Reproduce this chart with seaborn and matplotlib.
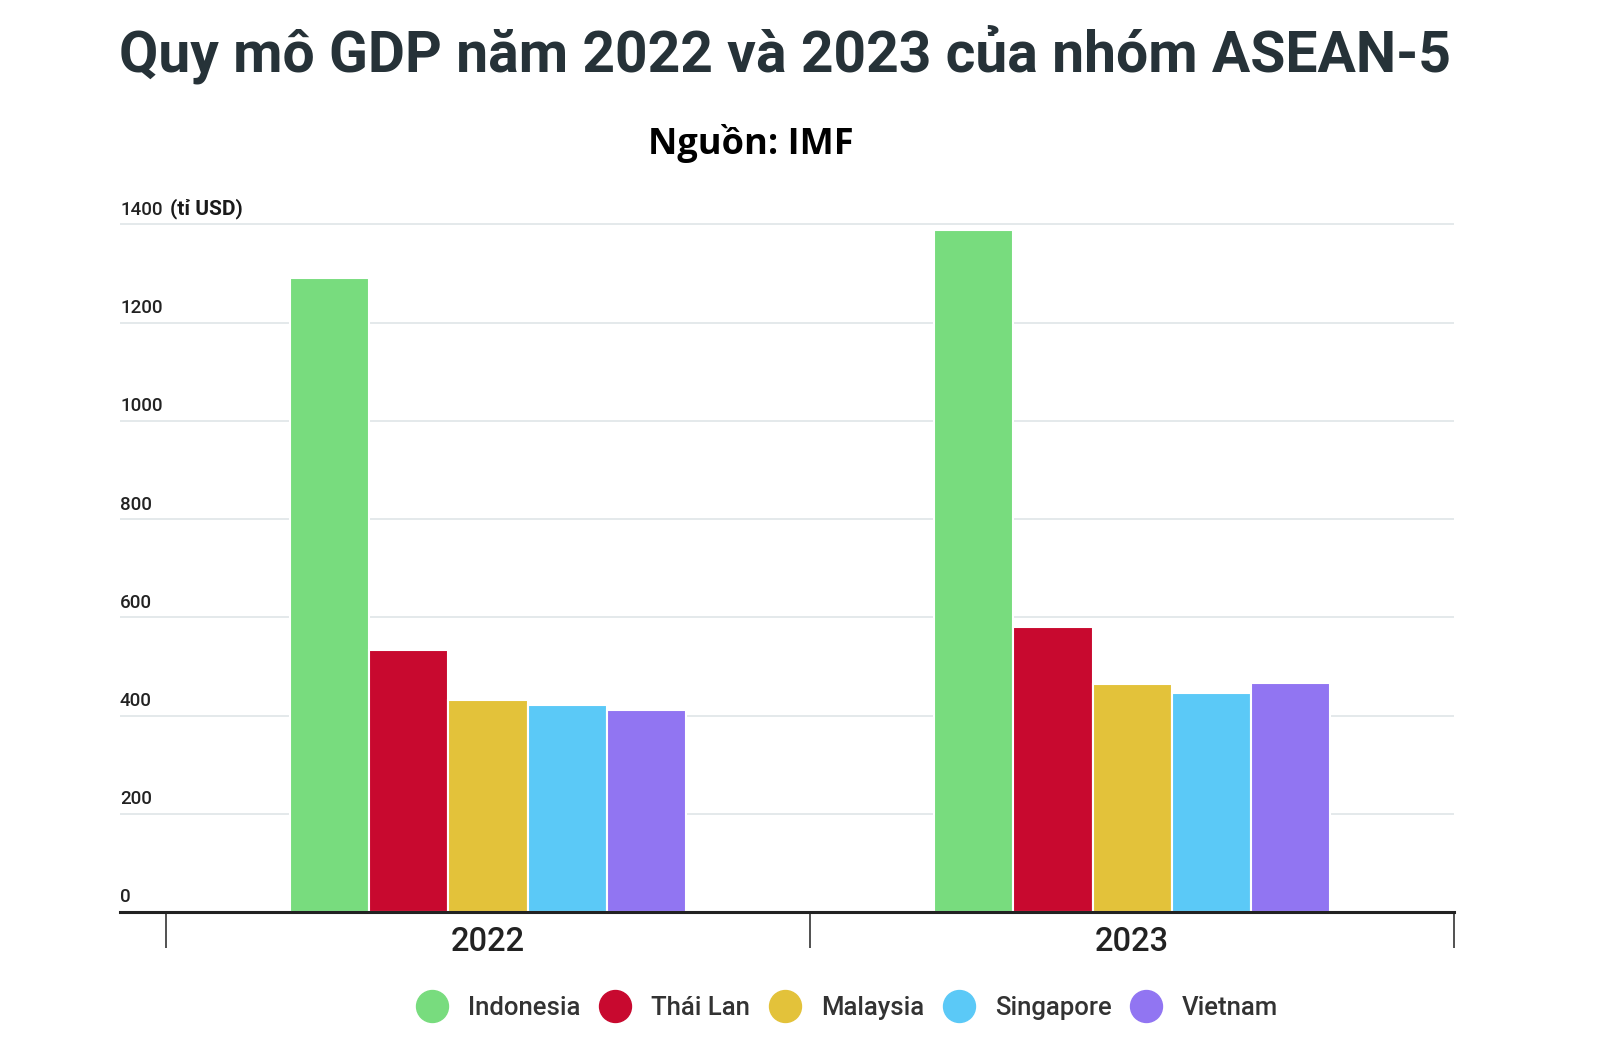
import matplotlib
matplotlib.use("Agg")
import matplotlib.pyplot as plt
import seaborn as sns
import pandas as pd
from matplotlib.lines import Line2D

# data (ti USD)
years = ["2022", "2023"]
countries = ["Indonesia", "Thái Lan", "Malaysia", "Singapore", "Vietnam"]
gdp_2022 = [1290, 534, 432, 422, 411]
gdp_2023 = [1388, 580, 465, 447, 467]
y_ticks = [0, 200, 400, 600, 800, 1000, 1200, 1400]

colors = ["#78DC7E", "#C8092F", "#E3C23A", "#5BC9F7", "#9175F2"]

df = pd.DataFrame({
    "year": [years[0]] * len(countries) + [years[1]] * len(countries),
    "country": countries * 2,
    "gdp": gdp_2022 + gdp_2023,
})

sns.set_theme(style="white")
plt.rcParams['font.family'] = ['Roboto', 'DejaVu Sans']

fig = plt.figure(figsize=(16, 10.39), dpi=100)
ax = fig.add_axes([0.075, 0.1222, 0.834, 0.6627])

sns.barplot(data=df, x="year", y="gdp", hue="country", hue_order=countries,
            palette=colors, saturation=1, width=0.615, edgecolor="white",
            linewidth=1.5, legend=False, ax=ax)

ax.set_xlim(-0.571, 1.5)
ax.set_ylim(0, 1402)
ax.set_yticks(y_ticks)
ax.set_yticklabels([])
ax.tick_params(axis='y', length=0)
ax.yaxis.grid(True, color="#DDE3E6", linewidth=1.1)
ax.set_axisbelow(True)
ax.set_xlabel("")
ax.set_ylabel("")

for s in ["left", "right", "top"]:
    ax.spines[s].set_visible(False)
ax.spines["bottom"].set_color("#222222")
ax.spines["bottom"].set_linewidth(2.2)

# y labels sit above the grid lines, inside the plot
for v in y_ticks:
    ax.annotate(str(v), xy=(0, v), xycoords=ax.get_yaxis_transform(),
                xytext=(0, 4), textcoords="offset points",
                ha="left", va="bottom", fontsize=13.5, fontweight="medium",
                color="#222222")
ax.annotate("(tỉ USD)", xy=(0, y_ticks[-1]), xycoords=ax.get_yaxis_transform(),
            xytext=(36, 4), textcoords="offset points",
            ha="left", va="bottom", fontsize=15, fontweight="bold", color="#1a1a1a")

# x axis: labels under groups, long ticks between groups
ax.set_xticks([0, 1])
ax.set_xticklabels(years, fontweight="medium")
ax.set_xticks([-0.5, 0.5, 1.5], minor=True)
ax.tick_params(axis='x', which='major', length=0, labelsize=23.5, pad=10, labelcolor="#222222")
ax.tick_params(axis='x', which='minor', length=26, width=1.1, color="#222222", direction="out")
ax.xaxis.set_tick_params(which='minor', bottom=True)

fig.text(0.4906, 0.931, "Quy mô GDP năm 2022 và 2023 của nhóm ASEAN-5",
         ha="center", va="baseline", fontsize=41, fontweight="bold", color="#263238")
fig.text(0.469, 0.8518, "Nguồn: IMF", ha="center", va="baseline",
         fontsize=26, fontweight="bold", color="black",
         family=["Open Sans", "DejaVu Sans"])

handles = [Line2D([], [], marker="o", linestyle="", markersize=23,
                  markerfacecolor=c, markeredgecolor=c) for c in colors]
leg = fig.legend(handles, countries, ncol=5, frameon=False, loc="center",
                 bbox_to_anchor=(0.529, 0.030), fontsize=18.5, handlelength=1.4,
                 handletextpad=0.7, columnspacing=0.65, labelcolor="#333333")
for t in leg.get_texts():
    t.set_fontweight("medium")

fig.savefig("out.png", dpi=100)
